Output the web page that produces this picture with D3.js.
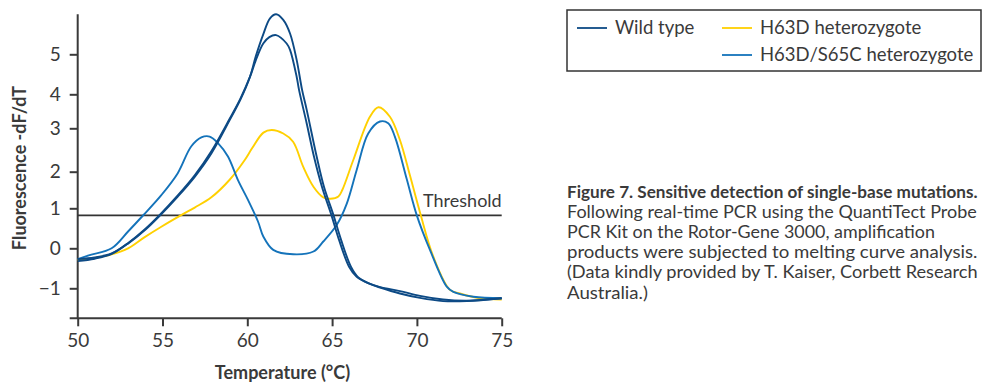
<!DOCTYPE html>
<html>
<head>
<meta charset="utf-8">
<script src="https://cdn.jsdelivr.net/npm/d3@7"></script>
<style>
  html, body { margin: 0; padding: 0; background: #fff; }
  svg { display: block; }
  text { font-family: Lato, "Noto Sans", sans-serif; fill: #3a3a3a; }
</style>
</head>
<body>
<svg id="chart" width="983" height="382"></svg>
<script>
// Melting curves: temperature (°C) vs fluorescence -dF/dT
const wildTypeA = [
  [50, -0.27], [51, -0.23], [52, -0.13], [53, 0.13], [54, 0.47], [54.85, 0.82],
  [55.9, 1.32], [56.9, 1.86], [57.88, 2.42], [58.96, 3.24], [59.6, 3.85], [60.16, 4.44],
  [60.5, 4.95], [60.94, 5.5], [61.34, 5.9], [61.7, 6.0], [62.12, 5.86], [62.52, 5.52],
  [62.91, 4.86], [63.23, 4.11], [63.5, 3.55], [64.09, 2.35], [64.52, 1.59], [65.08, 0.83],
  [65.53, 0.21], [66.11, -0.46], [66.53, -0.72], [67.24, -0.89], [67.83, -0.98],
  [69.0, -1.13], [70.18, -1.24], [71.54, -1.32], [72.94, -1.32], [75, -1.25]
];
const wildTypeB = [
  [50, -0.32], [51, -0.26], [52, -0.14], [53, 0.14], [54, 0.49], [54.85, 0.84],
  [55.9, 1.35], [56.9, 1.9], [57.88, 2.47], [58.96, 3.28], [59.6, 3.88], [60.16, 4.44],
  [60.5, 4.85], [60.94, 5.27], [61.3, 5.43], [61.7, 5.48], [62.32, 5.27], [62.52, 5.11],
  [62.91, 4.44], [63.05, 4.11], [63.5, 3.15], [63.93, 2.35], [64.4, 1.59], [64.96, 0.83],
  [65.41, 0.21], [66.0, -0.46], [66.45, -0.71], [67.12, -0.87], [67.83, -0.97],
  [69.0, -1.07], [70.18, -1.19], [71.54, -1.28], [72.94, -1.31], [75, -1.25]
];
const h63d = [
  [50, -0.29], [51, -0.24], [52, -0.15], [52.97, 0.0], [53.95, 0.28], [54.93, 0.54],
  [56.1, 0.83], [56.9, 1.02], [57.88, 1.3], [58.96, 1.78], [59.85, 2.27], [60.3, 2.55],
  [60.95, 2.9], [61.44, 2.96], [62.12, 2.88], [62.7, 2.69], [63.3, 2.11], [63.9, 1.59],
  [64.48, 1.3], [64.9, 1.26], [65.37, 1.32], [65.6, 1.5], [66.25, 2.27], [67.23, 3.34],
  [67.73, 3.62], [68.41, 3.34], [69.0, 2.73], [69.6, 1.88], [70.2, 0.87], [70.97, -0.21],
  [71.95, -1.04], [72.54, -1.13], [73.72, -1.25], [75, -1.28]
];
const h63dS65c = [
  [50, -0.27], [50.7, -0.17], [52.0, 0.0], [52.97, 0.42], [53.85, 0.82], [54.93, 1.36],
  [55.9, 1.96], [56.69, 2.58], [57.29, 2.79], [57.78, 2.81], [58.27, 2.66], [58.86, 2.35],
  [59.45, 1.77], [60.04, 1.23], [60.63, 0.67], [60.95, 0.29], [61.53, -0.04], [62.7, -0.15],
  [63.9, -0.08], [64.48, 0.17], [65.27, 0.58], [65.86, 1.12], [66.45, 2.04], [67.13, 2.88],
  [67.82, 3.2], [68.31, 3.15], [68.7, 2.81], [69.4, 1.8], [69.99, 0.83], [70.77, -0.04],
  [71.76, -0.96], [72.15, -1.09], [73.33, -1.21], [75, -1.25]
];

const thresholdValue = 0.825;
const xTicks = [50, 55, 60, 65, 70, 75];
const yTicks = [-1, 0, 1, 2, 3, 4, 5];
// tick levels of the printed y axis and the pixel rows they sit on (uneven spacing)
const yLevels = [-1.75, -1, 0, 1, 2, 3, 4, 5, 6];
const yRows = [318.3, 288.3, 248.3, 208.3, 171.7, 128.3, 94.3, 54.3, 14.3];

const legendItems = [
  { label: "Wild type", color: "#0d4a85", col: 0, row: 0 },
  { label: "H63D heterozygote", color: "#ffd000", col: 1, row: 0 },
  { label: "H63D/S65C heterozygote", color: "#1473ba", col: 1, row: 1 }
];
const captionTitle = "Figure 7. Sensitive detection of single-base mutations.";
const captionLines = [
  "Following real-time PCR using the QuantiTect Probe",
  "PCR Kit on the Rotor-Gene 3000, amplification",
  "products were subjected to melting curve analysis.",
  "(Data kindly provided by T. Kaiser, Corbett Research",
  "Australia.)"
];
const captionWidths = [410, 368, 411, 411, 81];

const svg = d3.select("#chart");
const axisColor = "#3a3a3a";

const x = d3.scaleLinear().domain([50, 75]).range([77.7, 501.7]);
const y = d3.scaleLinear().domain(yLevels).range(yRows);

// axes
const gx = svg.append("g").attr("transform", `translate(0,${y(-1.75)})`)
  .call(d3.axisBottom(x).tickValues(xTicks).tickSize(8).tickSizeOuter(0).tickPadding(7));
const gy = svg.append("g").attr("transform", `translate(${x(50)},0)`)
  .call(d3.axisLeft(y).tickValues(yTicks).tickSize(8).tickSizeOuter(0).tickPadding(9)
    .tickFormat(d => d < 0 ? "\u2212" + Math.abs(d) : d));
gy.select(".domain").attr("d", `M0,${y(6)}V${y(-1.75)}`);
gx.select(".domain").attr("d", `M${x(50) - 8},0H${x(75)}`);
[gx, gy].forEach(g => {
  g.selectAll(".domain").attr("stroke", axisColor).attr("stroke-width", 2);
  g.selectAll(".tick line").attr("stroke", axisColor).attr("stroke-width", 2);
  g.selectAll(".tick text").style("font-size", "19px").attr("fill", "#333");
});

// threshold line
svg.append("line")
  .attr("x1", x(50)).attr("x2", x(75))
  .attr("y1", y(thresholdValue)).attr("y2", y(thresholdValue))
  .attr("stroke", "#333").attr("stroke-width", 1.8);
svg.append("text")
  .attr("x", x(75)).attr("y", y(thresholdValue) - 8)
  .attr("text-anchor", "end").style("font-size", "18px")
  .text("Threshold");

// curves
const line = d3.line()
  .x(d => x(d[0])).y(d => y(d[1]))
  .curve(d3.curveCatmullRom.alpha(0.5));
const series = [
  { data: h63d, color: legendItems[1].color },
  { data: h63dS65c, color: legendItems[2].color },
  { data: wildTypeB, color: legendItems[0].color },
  { data: wildTypeA, color: legendItems[0].color }
];
svg.append("g").selectAll("path").data(series).join("path")
  .attr("d", s => line(s.data))
  .attr("fill", "none")
  .attr("stroke", s => s.color)
  .attr("stroke-width", 1.9)
  .attr("stroke-linejoin", "round");

// axis titles
svg.append("text")
  .attr("x", 282.5).attr("y", 379)
  .attr("text-anchor", "middle")
  .style("font-size", "18px").style("font-weight", "bold")
  .attr("fill", "#222")
  .text("Temperature (°C)");
svg.append("text")
  .attr("transform", "translate(26,168) rotate(-90)")
  .attr("text-anchor", "middle")
  .style("font-size", "18px").style("font-weight", "bold")
  .attr("fill", "#222")
  .text("Fluorescence -dF/dT");

// legend
const legend = svg.append("g");
legend.append("rect")
  .attr("x", 567).attr("y", 10).attr("width", 414).attr("height", 61)
  .attr("fill", "none").attr("stroke", "#333").attr("stroke-width", 1.5);
const colX = [577, 722];
const rowY = [28, 55];
const items = legend.selectAll("g.item").data(legendItems).join("g").attr("class", "item")
  .attr("transform", d => `translate(${colX[d.col]},${rowY[d.row]})`);
items.append("line").attr("x1", 0).attr("x2", 30)
  .attr("stroke", d => d.color).attr("stroke-width", 1.8);
items.append("text").attr("x", 38).attr("dy", "0.35em")
  .style("font-size", "18.5px").attr("fill", "#333")
  .text(d => d.label);

// caption: each line is fitted horizontally to its column width
const captionRows = [
  { text: captionTitle, width: 411, bold: true }
].concat(captionLines.map((t, i) => ({ text: t, width: captionWidths[i], bold: false })));
svg.append("g").selectAll("text.caption").data(captionRows).join("text")
  .attr("class", "caption")
  .style("font-size", d => d.bold ? "17.5px" : "18px")
  .style("font-weight", d => d.bold ? "bold" : "normal")
  .attr("fill", d => d.bold ? "#222" : "#333")
  .text(d => d.text)
  .attr("transform", function (d, i) {
    const natural = this.getComputedTextLength();
    const sx = d.width / natural;
    return `translate(567,${197.5 + i * 20.2}) scale(${sx},1)`;
  });
</script>
</body>
</html>
